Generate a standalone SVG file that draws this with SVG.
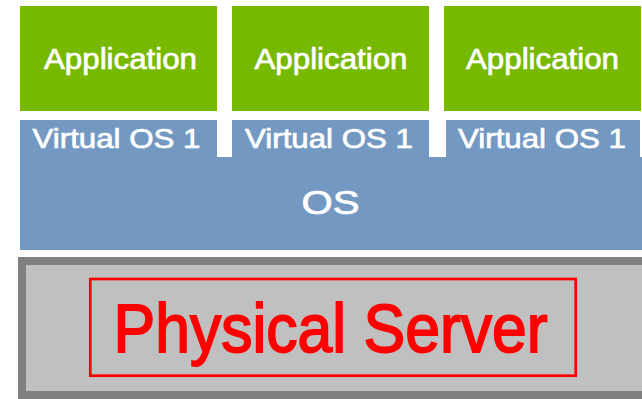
<svg xmlns="http://www.w3.org/2000/svg" width="642" height="399" viewBox="0 0 642 399">
  <style>
    .app { fill: #76B900; }
    .os { fill: #7399C2; }
    .lbl { font-family: "Liberation Sans", Arial, sans-serif; fill: #FFFFFF; stroke: #FFFFFF; stroke-width: 0.7px; text-anchor: middle; }
    .applbl { font-size: 30px; }
    .vlbl { font-size: 28.5px; }
    .oslbl { font-size: 33px; }
    .hw { font-family: "Liberation Sans", Arial, sans-serif; font-size: 68px; fill: #FF0000; stroke: #FF0000; stroke-width: 1.8px; text-anchor: middle; }
  </style>
  <rect width="642" height="399" fill="#FFFFFF"/>

  <!-- Host OS layer -->
  <g id="host-os">
    <rect class="os" x="20" y="157" width="622" height="93"/>
    <text class="lbl oslbl" x="330.5" y="214" textLength="58" lengthAdjust="spacingAndGlyphs">OS</text>
  </g>

  <!-- Guest stacks: application on top of a virtual OS -->
  <g id="app-1">
    <rect class="app" x="20" y="6" width="197" height="105"/>
    <text class="lbl applbl" x="120.5" y="68.5" textLength="153" lengthAdjust="spacingAndGlyphs">Application</text>
  </g>
  <g id="vos-1">
    <rect class="os" x="20" y="120" width="197" height="38"/>
    <text class="lbl vlbl" x="116.5" y="147.5" textLength="168" lengthAdjust="spacingAndGlyphs">Virtual OS 1</text>
  </g>

  <g id="app-2">
    <rect class="app" x="232" y="6" width="197" height="105"/>
    <text class="lbl applbl" x="331" y="68.5" textLength="153" lengthAdjust="spacingAndGlyphs">Application</text>
  </g>
  <g id="vos-2">
    <rect class="os" x="232" y="120" width="197" height="38"/>
    <text class="lbl vlbl" x="329" y="147.5" textLength="168" lengthAdjust="spacingAndGlyphs">Virtual OS 1</text>
  </g>

  <g id="app-3">
    <rect class="app" x="444" y="6" width="197" height="105"/>
    <text class="lbl applbl" x="542.5" y="68.5" textLength="153" lengthAdjust="spacingAndGlyphs">Application</text>
  </g>
  <g id="vos-3">
    <rect class="os" x="446" y="120" width="194" height="38"/>
    <text class="lbl vlbl" x="542" y="147.5" textLength="168" lengthAdjust="spacingAndGlyphs">Virtual OS 1</text>
  </g>

  <!-- Hardware layer -->
  <g id="physical-server">
    <rect x="22" y="261" width="626" height="134" fill="#C0C0C0" stroke="#808080" stroke-width="8"/>
    <rect x="90.3" y="279" width="485.4" height="96.7" fill="none" stroke="#FF0000" stroke-width="2.7"/>
    <text class="hw" x="330.5" y="352" textLength="434" lengthAdjust="spacingAndGlyphs">Physical Server</text>
  </g>

  <g id="connectors"/>
</svg>
